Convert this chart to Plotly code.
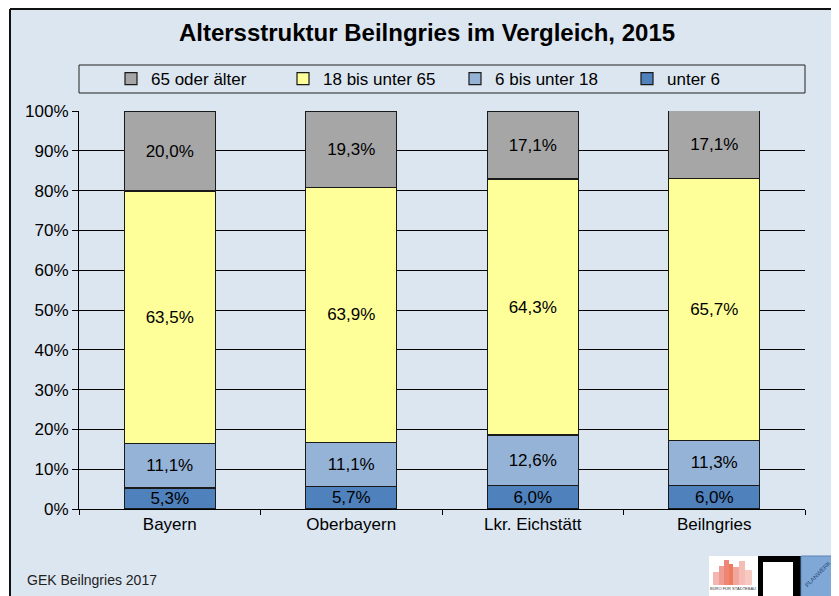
import plotly.graph_objects as go

categories = ["Bayern", "Oberbayern", "Lkr. Eichstätt", "Beilngries"]
unter_6 = [5.3, 5.7, 6.0, 6.0]
u6_18 = [11.1, 11.1, 12.6, 11.3]
u18_65 = [63.5, 63.9, 64.3, 65.7]
ue65 = [20.0, 19.3, 17.1, 17.1]
series_names = ["unter 6", "6 bis unter 18", "18 bis unter 65", "65 oder älter"]
colors = ["#4F81BD", "#95B3D7", "#FFFF99", "#A6A6A6"]
y_ticks = [0, 10, 20, 30, 40, 50, 60, 70, 80, 90, 100]
y_tick_labels = [f"{v}%" for v in y_ticks]

OFF = 8  # page body margin
W, H = 839 - OFF, 596 - OFF
L, R, T, B = 79 - OFF, 805 - OFF, 111 - OFF, 509 - OFF
FONT = "Liberation Sans, Arial"


def px(x):
    # x given in page pixels
    return (x - OFF - L) / (R - L)


def py(y):
    return (B - (y - OFF)) / (B - T)


fig = go.Figure()
for name, vals, col in zip(series_names, [unter_6, u6_18, u18_65, ue65], colors):
    fig.add_trace(go.Bar(
        x=categories, y=vals, name=name,
        marker=dict(color=col, line=dict(color="#1a1a1a", width=1.2)),
        texttemplate="%{y:.1f}%", textposition="inside",
        insidetextanchor="middle", constraintext="none",
        textfont=dict(size=17, color="black", family=FONT),
        textangle=0,
    ))

shapes = []
# background panel
shapes.append(dict(type="rect", xref="paper", yref="paper", layer="below",
                   x0=px(10), x1=px(860), y0=py(620), y1=py(9),
                   fillcolor="#DCE6F0", line=dict(width=0)))
shapes.append(dict(type="line", xref="paper", yref="paper", layer="below",
                   x0=px(10), x1=px(10), y0=py(620), y1=py(9),
                   line=dict(color="#111111", width=2)))
shapes.append(dict(type="line", xref="paper", yref="paper", layer="below",
                   x0=px(10), x1=px(860), y0=py(9), y1=py(9),
                   line=dict(color="#111111", width=2)))
# legend box
shapes.append(dict(type="rect", xref="paper", yref="paper", layer="below",
                   x0=px(79), x1=px(805), y0=py(93), y1=py(65),
                   fillcolor="#DCE6F0", line=dict(color="#222222", width=1)))
# logos
shapes.append(dict(type="rect", xref="paper", yref="paper",
                   x0=px(709), x1=px(758), y0=py(600), y1=py(556),
                   fillcolor="white", line=dict(width=0)))
for (a, b, top, c) in [(713, 719, 572, "#F4B6B0"), (719, 724, 566, "#F19C92"),
                       (724, 729, 560, "#EE8677"), (729, 733, 564, "#F07A5C"),
                       (733, 739, 567, "#F2A79E"), (739, 745, 561, "#F5BDB6"),
                       (745, 752, 570, "#F7C9C3")]:
    shapes.append(dict(type="rect", xref="paper", yref="paper",
                       x0=px(a), x1=px(b), y0=py(585), y1=py(top),
                       fillcolor=c, line=dict(width=0)))
shapes.append(dict(type="rect", xref="paper", yref="paper",
                   x0=px(758), x1=px(801), y0=py(600), y1=py(556),
                   fillcolor="black", line=dict(width=0)))
shapes.append(dict(type="rect", xref="paper", yref="paper",
                   x0=px(763), x1=px(793), y0=py(600), y1=py(562),
                   fillcolor="white", line=dict(width=0)))
shapes.append(dict(type="rect", xref="paper", yref="paper",
                   x0=px(801), x1=px(845), y0=py(600), y1=py(556),
                   fillcolor="#7FA8D6", line=dict(color="#5A86B8", width=1)))

annotations = [
    dict(text="GEK Beilngries 2017", xref="paper", yref="paper",
         x=px(25), y=py(580), xanchor="left", yanchor="middle", showarrow=False,
         font=dict(size=14, color="#222222", family=FONT)),
    dict(text="PLANWERK", xref="paper", yref="paper",
         x=px(818), y=py(574), xanchor="center", yanchor="middle", showarrow=False,
         textangle=-45, font=dict(size=6, color="#2a4a7a", family=FONT)),
    dict(text="BÜRO FÜR STÄDTEBAU", xref="paper", yref="paper",
         x=px(733), y=py(588), xanchor="center", yanchor="middle", showarrow=False,
         font=dict(size=4, color="#333333", family=FONT)),
]

fig.update_layout(
    width=W, height=H,
    margin=dict(l=L, r=W - R, t=T, b=H - B, autoexpand=False),
    paper_bgcolor="white", plot_bgcolor="rgba(0,0,0,0)",
    barmode="stack", bargap=0.5,
    separators=",.",
    font=dict(family=FONT, size=17, color="black"),
    title=dict(text="<b>Altersstruktur Beilngries im Vergleich, 2015</b>",
               x=px(427), xanchor="center", xref="paper",
               y=1 - (33 - OFF) / H, yanchor="middle",
               font=dict(size=24, family=FONT, color="black")),
    legend=dict(orientation="h", x=px(111), y=py(79), xanchor="left", yanchor="middle",
                traceorder="reversed", bgcolor="rgba(0,0,0,0)",
                entrywidth=127, entrywidthmode="pixels",
                font=dict(size=17, family=FONT),
                itemwidth=30),
    xaxis=dict(showline=True, linecolor="black", linewidth=1,
               ticks="outside", tickson="boundaries", ticklen=5, tickcolor="black",
               tickfont=dict(size=17)),
    yaxis=dict(range=[0, 100], tickvals=y_ticks, ticktext=y_tick_labels,
               showgrid=True, gridcolor="black", gridwidth=1,
               showline=True, linecolor="black", linewidth=1,
               ticks="outside", ticklen=6, tickcolor="black",
               tickfont=dict(size=17), zeroline=False),
    shapes=shapes, annotations=annotations,
    showlegend=True,
)

fig.write_html("out.html")
